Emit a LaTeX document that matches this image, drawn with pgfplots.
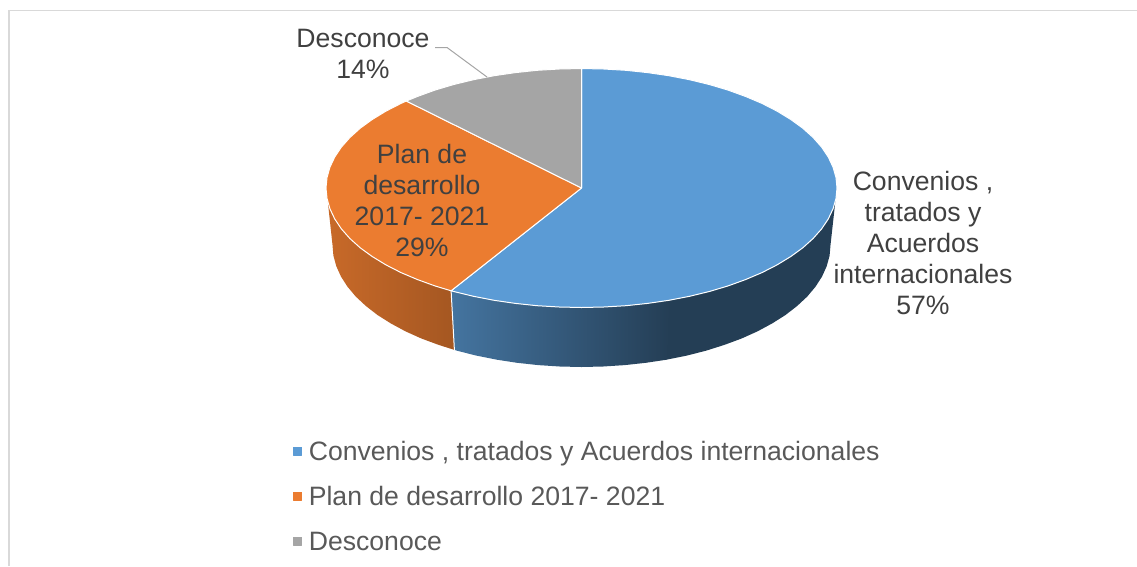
\documentclass[border=0pt]{standalone}
\usepackage{fontspec}
\setmainfont{Liberation Sans}
\usepackage{pgfplots}
\pgfplotsset{compat=1.18}
\definecolor{cblue}{HTML}{5B9BD5}
\definecolor{corange}{HTML}{EB7C30}
\definecolor{cgray}{HTML}{A5A5A5}
\definecolor{ctext}{HTML}{404040}
\definecolor{clegend}{HTML}{595959}
\definecolor{cframe}{HTML}{D9D9D9}
\begin{document}
\begin{tikzpicture}
\begin{axis}[
    scale only axis,
    width=1137pt, height=566pt,
    xmin=0, xmax=1137, ymin=0, ymax=566,
    y dir=reverse,
    axis lines=none,
    clip=false,
    legend cell align=left,
    legend style={
        at={(0.2580,0.2204)}, anchor=north west, draw=none, fill=none,
        font=\fontsize{26.6}{30}\selectfont\color{clegend},
        row sep=20pt, inner sep=0pt, outer sep=0pt,
        nodes={inner xsep=6.5pt, inner ysep=0pt, text height=19pt, text depth=6pt}
    },
]
\useasboundingbox (axis cs:0,0) rectangle (axis cs:1137,566);
% marco
\addplot[cframe, line width=1.2pt, forget plot] coordinates {(9,566) (9,10.5) (1137,10.5)};

% lado naranja
\addplot[left color=corange!85!black, right color=corange!70!black, draw=none, forget plot] coordinates {
    (451.1,290.8) (434.9,285.9) (417.3,279.5) (400.8,272.5) (385.8,264.8) (372.2,256.5)
    (360.2,247.8) (349.9,238.5) (341.4,228.9) (334.7,218.9) (329.9,208.7) (327.9,202.6)
    (332.5,245) (333.4,255.6) (336.3,266.2) (341.0,276.6) (347.5,286.7) (355.8,296.6)
    (365.9,306.0) (377.5,315.0) (390.8,323.4) (405.4,331.3) (421.4,338.5) (438.7,344.9)
    (454.4,349.9)
} --cycle;
% lado azul oscuro
\addplot[fill=cblue!40!black, draw=none, forget plot] coordinates {
    (835.5,200) (833.1,208.7) (828.3,218.9) (821.6,228.9) (813.1,238.5) (802.8,247.8)
    (790.8,256.5) (777.2,264.8) (762.2,272.5) (745.7,279.5) (728.1,285.9) (709.3,291.5)
    (689.5,296.3) (668.9,300.3) (666.7,359.6) (686.7,355.6) (706.0,350.7) (724.3,344.9)
    (741.6,338.5) (757.6,331.3) (772.2,323.4) (785.5,315.0) (797.1,306.0) (807.2,296.6)
    (815.5,286.7) (822.0,276.6) (826.7,266.2) (829.6,255.6) (830.5,245)
} --cycle;
% lado azul con degradado
\addplot[left color=cblue!75!black, right color=cblue!40!black, draw=none, forget plot] coordinates {
    (669.4,300.2) (647.6,303.4) (625.9,305.7) (603.8,307.0) (581.5,307.5) (559.2,307.0)
    (537.1,305.7) (515.4,303.4) (494.1,300.3) (473.5,296.3) (453.7,291.5) (451.1,290.8)
    (454.4,349.9) (457.0,350.7) (476.3,355.6) (496.3,359.6) (517.1,362.8) (538.3,365.1)
    (559.8,366.5) (581.5,367) (603.2,366.5) (624.7,365.1) (645.9,362.8) (667.2,359.6)
} --cycle;
\addplot[white, line width=1pt, forget plot] coordinates {(451.1,290.8) (454.4,349.9)};

% sectores
\addplot[fill=cblue, draw=white, line width=1pt, line join=round,
    legend image code/.code={\fill[cblue] (0pt,-1.5pt) rectangle (8pt,6.5pt);}] coordinates {
    (581.5,188) (581.5,68.5) (603.8,69.0) (625.9,70.3) (647.6,72.6) (668.9,75.7) (689.5,79.7)
    (709.3,84.5) (728.1,90.1) (745.7,96.5) (762.2,103.5) (777.2,111.2) (790.8,119.5)
    (802.8,128.2) (813.1,137.5) (821.6,147.1) (828.3,157.1) (833.1,167.3) (836.0,177.6)
    (837.0,188.0) (836.0,198.4) (833.1,208.7) (828.3,218.9) (821.6,228.9) (813.1,238.5)
    (802.8,247.8) (790.8,256.5) (777.2,264.8) (762.2,272.5) (745.7,279.5) (728.1,285.9)
    (709.3,291.5) (689.5,296.3) (668.9,300.3) (647.6,303.4) (625.9,305.7) (603.8,307.0)
    (581.5,307.5) (559.2,307.0) (537.1,305.7) (515.4,303.4) (494.1,300.3) (473.5,296.3)
    (453.7,291.5) (451.1,290.8)
} --cycle;
\addlegendentry{Convenios , tratados y Acuerdos internacionales}
\addplot[fill=corange, draw=white, line width=1pt, line join=round,
    legend image code/.code={\fill[corange] (0pt,-1.5pt) rectangle (8pt,6.5pt);}] coordinates {
    (581.5,188) (451.1,290.8) (434.9,285.9) (417.3,279.5) (400.8,272.5) (385.8,264.8)
    (372.2,256.5) (360.2,247.8) (349.9,238.5) (341.4,228.9) (334.7,218.9) (329.9,208.7)
    (327.0,198.4) (326.0,188.0) (327.0,177.6) (329.9,167.3) (334.7,157.1) (341.4,147.1)
    (349.9,137.5) (360.2,128.2) (372.2,119.5) (385.8,111.2) (400.8,103.5) (406.3,101.0)
} --cycle;
\addlegendentry{Plan de desarrollo 2017- 2021}
\addplot[fill=cgray, draw=white, line width=1pt, line join=round,
    legend image code/.code={\fill[cgray] (0pt,-1.5pt) rectangle (8pt,6.5pt);}] coordinates {
    (581.5,188) (406.3,101.0) (417.3,96.5) (434.9,90.1) (453.7,84.5) (473.5,79.7) (494.1,75.7)
    (515.4,72.6) (537.1,70.3) (559.2,69.0) (581.5,68.5)
} --cycle;
\addlegendentry{Desconoce}

% linea guia
\addplot[cgray, line width=1pt, forget plot] coordinates {(435,47.5) (447,47.5) (487,77)};

% etiquetas
\node[align=center, text=ctext, font=\fontsize{26.6}{31}\selectfont, inner sep=0pt] at (axis cs:363,53.5) {Desconoce\\14\%};
\node[align=center, text=ctext, font=\fontsize{26.6}{31}\selectfont, inner sep=0pt] at (axis cs:422,200) {Plan de\\desarrollo\\2017- 2021\\29\%};
\node[align=center, text=ctext, font=\fontsize{26.6}{31}\selectfont, inner sep=0pt] at (axis cs:923,242.5) {Convenios ,\\tratados y\\Acuerdos\\internacionales\\57\%};
\end{axis}
\end{tikzpicture}
\end{document}
